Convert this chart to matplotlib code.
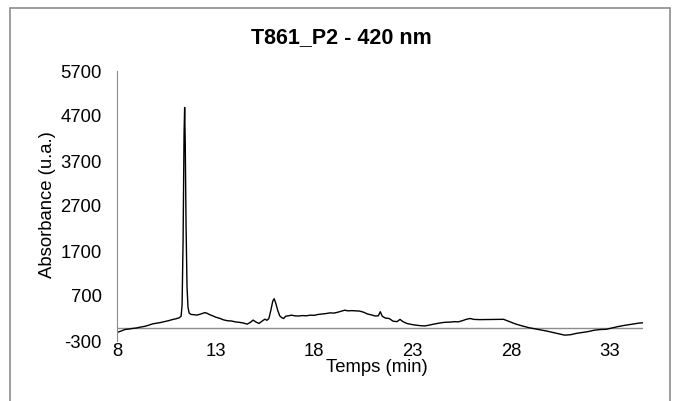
import matplotlib.pyplot as plt
from matplotlib.patches import Rectangle

# chromatogram trace (time in min, absorbance in u.a.)
temps = [8.00, 8.20, 8.40, 8.60, 8.80, 9.00, 9.20, 9.40, 9.60, 9.80,
         10.00, 10.20, 10.40, 10.60, 10.80, 11.00, 11.15, 11.25, 11.30, 11.35,
         11.40, 11.43, 11.46, 11.50, 11.55, 11.60, 11.66, 11.75, 11.90, 12.05,
         12.25, 12.45, 12.55, 12.70, 12.85, 13.00, 13.20, 13.40, 13.60, 13.80,
         14.00, 14.20, 14.40, 14.60, 14.75, 14.90, 15.05, 15.20, 15.35, 15.50,
         15.60, 15.70, 15.80, 15.90, 15.97, 16.05, 16.15, 16.25, 16.35, 16.45,
         16.55, 16.70, 16.85, 17.00, 17.20, 17.40, 17.60, 17.80, 18.00, 18.20,
         18.40, 18.60, 18.80, 19.00, 19.20, 19.40, 19.55, 19.70, 19.90, 20.10,
         20.30, 20.50, 20.70, 20.90, 21.10, 21.25, 21.35, 21.45, 21.60, 21.80,
         22.00, 22.20, 22.35, 22.50, 22.70, 22.90, 23.10, 23.40, 23.60, 23.80,
         24.00, 24.30, 24.60, 24.90, 25.10, 25.30, 25.50, 25.70, 25.90, 26.10,
         26.40, 26.80, 27.20, 27.60, 27.90, 28.20, 28.50, 28.90, 29.20, 29.50,
         29.80, 30.10, 30.40, 30.70, 31.00, 31.30, 31.60, 31.90, 32.20, 32.50,
         32.80, 33.10, 33.40, 33.70, 34.00, 34.30, 34.50, 34.67]
absorbance = [-110, -80, -45, -35, -20, -10, 10, 25, 50, 80,
              95, 110, 130, 150, 175, 195, 215, 250, 500, 1900,
              4300, 4890, 4100, 2300, 900, 450, 320, 290, 285, 275,
              300, 330, 320, 285, 260, 230, 205, 170, 150, 145,
              125, 115, 100, 75, 110, 165, 120, 90, 140, 185,
              160, 200, 380, 590, 640, 540, 380, 260, 220, 200,
              250, 260, 275, 260, 255, 265, 260, 275, 270, 290,
              300, 310, 325, 320, 340, 365, 385, 370, 375, 370,
              365, 340, 300, 280, 255, 260, 350, 250, 210, 200,
              140, 130, 180, 130, 90, 70, 55, 40, 35, 50,
              70, 95, 115, 120, 130, 125, 150, 180, 200, 180,
              175, 178, 180, 182, 130, 80, 40, -5, -30, -55,
              -80, -110, -140, -170, -160, -130, -110, -90, -60, -45,
              -40, -10, 20, 45, 65, 85, 100, 105]

xticks = [8, 13, 18, 23, 28, 33]
yticks = [-300, 700, 1700, 2700, 3700, 4700, 5700]

plt.rcParams['font.family'] = ['Liberation Sans', 'DejaVu Sans']
plt.rcParams['axes.unicode_minus'] = False

W, H = 673, 401
fig = plt.figure(figsize=(W / 100, H / 100), dpi=100)
ax = fig.add_axes([117 / W, 1 - 341 / H, 526 / W, 270 / H])

# outer chart border
fig.patches.append(Rectangle((10 / W, -0.05), 660 / W, 1.05 - 8 / H,
                             transform=fig.transFigure, fill=False,
                             edgecolor='#8c8c8c', linewidth=1.2))

ax.axhline(0, color='#8c8c8c', linewidth=1)
ax.plot(temps, absorbance, color='black', linewidth=1)

ax.set_xlim(8, 34.67)
ax.set_ylim(-300, 5700)
ax.set_xticks(xticks)
ax.set_yticks(yticks)
ax.tick_params(axis='both', length=0, labelsize=13.3)
ax.tick_params(axis='x', pad=1.5)
ax.tick_params(axis='y', pad=11)

for side in ['top', 'right', 'bottom']:
    ax.spines[side].set_visible(False)
ax.spines['left'].set_color('#8c8c8c')

fig.text(341 / W, 1 - 43.5 / H, "T861_P2 - 420 nm", fontsize=15.5,
         fontweight='bold', ha='center', va='baseline')
fig.text(377 / W, 1 - 367 / H, "Temps (min)", fontsize=13.3,
         ha='center', va='center')
fig.text(48 / W, 1 - 205 / H, "Absorbance (u.a.)", fontsize=13.3,
         ha='center', va='center', rotation=90)

fig.savefig("out.png", dpi=100)
